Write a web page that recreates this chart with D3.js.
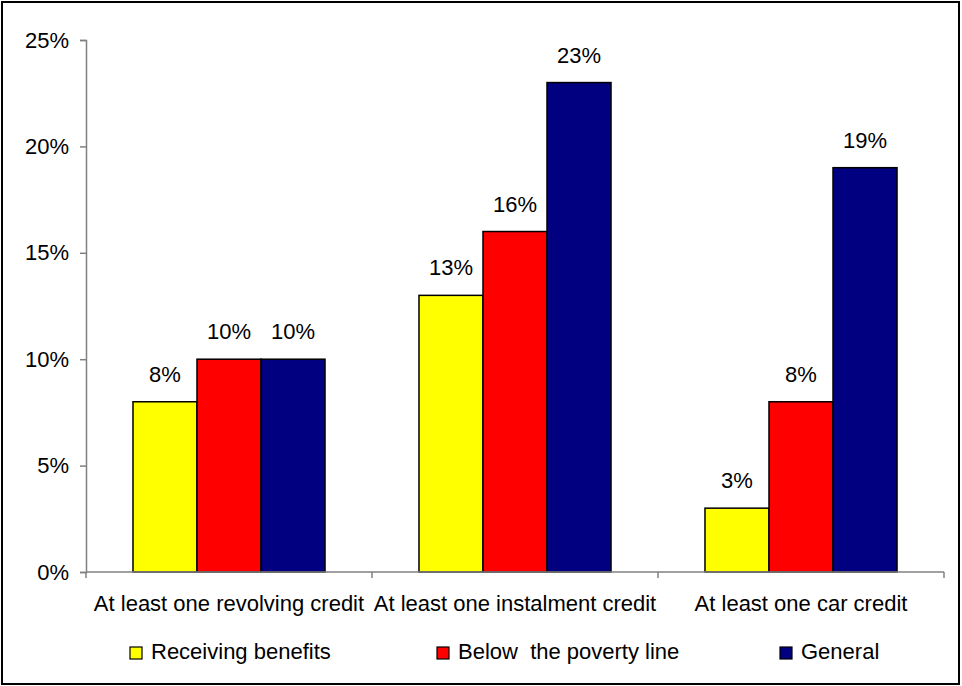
<!DOCTYPE html>
<html>
<head>
<meta charset="utf-8">
<script src="https://cdn.jsdelivr.net/npm/d3@7"></script>
<style>
  html, body { margin: 0; padding: 0; background: #fff; }
  svg { display: block; font-family: "Liberation Sans", Arial, sans-serif; }
</style>
</head>
<body>
<svg id="chart" width="962" height="686"></svg>
<script>
// Share of households holding each type of credit
const categories = ["At least one revolving credit", "At least one instalment credit", "At least one car credit"];
const seriesNames = ["Receiving benefits", "Below  the poverty line", "General"];
const receivingBenefits = [8, 13, 3];
const belowPovertyLine = [10, 16, 8];
const general = [10, 23, 19];
const yTicks = [0, 5, 10, 15, 20, 25];
const colors = ["#ffff00", "#ff0000", "#000080"];

const seriesValues = [receivingBenefits, belowPovertyLine, general];

const svg = d3.select("#chart");
const W = 962, H = 686;
const FS = 22;

// outer frame
svg.append("rect")
  .attr("x", 2).attr("y", 2).attr("width", W - 5).attr("height", H - 4)
  .attr("fill", "#fff").attr("stroke", "#000").attr("stroke-width", 2);

const plot = { left: 86, right: 944, top: 40, bottom: 572 };

const x0 = d3.scaleBand().domain(categories).range([plot.left, plot.right]).paddingInner(0).paddingOuter(0);
const x1 = d3.scaleBand().domain(seriesNames).range([0, x0.bandwidth()]).paddingInner(0).paddingOuter(0.734);
const y = d3.scaleLinear().domain([0, 25]).range([plot.bottom, plot.top]);

// bars
const groups = svg.append("g").selectAll("g")
  .data(categories)
  .join("g")
  .attr("transform", d => `translate(${x0(d)},0)`);

groups.selectAll("rect")
  .data((c, ci) => seriesNames.map((s, si) => ({ s, si, v: seriesValues[si][ci] })))
  .join("rect")
  .attr("x", d => x1(d.s))
  .attr("y", d => y(d.v))
  .attr("width", x1.bandwidth())
  .attr("height", d => y(0) - y(d.v))
  .attr("fill", d => colors[d.si])
  .attr("stroke", "#000")
  .attr("stroke-width", 1.5);

// value labels
groups.selectAll("text")
  .data((c, ci) => seriesNames.map((s, si) => ({ s, si, v: seriesValues[si][ci] })))
  .join("text")
  .attr("x", d => x1(d.s) + x1.bandwidth() / 2)
  .attr("y", d => y(d.v) - 20)
  .attr("text-anchor", "middle")
  .attr("font-size", FS)
  .attr("fill", "#000")
  .text(d => d.v + "%");

// y axis
const yAxis = d3.axisLeft(y).tickValues(yTicks).tickFormat(d => d + "%").tickSize(6).tickPadding(11);
const yg = svg.append("g").attr("transform", `translate(${plot.left},0)`).call(yAxis);
yg.select(".domain").attr("stroke", "#808080").attr("stroke-width", 1.5);
yg.selectAll(".tick line").attr("stroke", "#808080").attr("stroke-width", 1.5);
yg.selectAll(".tick text").attr("font-size", FS).attr("fill", "#000")
  .attr("font-family", "Liberation Sans, Arial, sans-serif");

// x axis
const xg = svg.append("g").attr("transform", `translate(0,${plot.bottom})`);
xg.append("line")
  .attr("x1", plot.left).attr("x2", plot.right)
  .attr("stroke", "#808080").attr("stroke-width", 1.5);
const boundaries = categories.map(c => x0(c)).concat([plot.right]);
xg.selectAll("line.tick")
  .data(boundaries)
  .join("line")
  .attr("class", "tick")
  .attr("x1", d => d).attr("x2", d => d)
  .attr("y1", 0).attr("y2", 6)
  .attr("stroke", "#808080").attr("stroke-width", 1.5);
xg.selectAll("text")
  .data(categories)
  .join("text")
  .attr("x", d => x0(d) + x0.bandwidth() / 2)
  .attr("y", 39)
  .attr("text-anchor", "middle")
  .attr("font-size", FS)
  .attr("fill", "#000")
  .text(d => d);

// legend
const legendX = [130, 437, 780];
const lg = svg.append("g").selectAll("g")
  .data(seriesNames)
  .join("g")
  .attr("transform", (d, i) => `translate(${legendX[i]},647)`);
lg.append("rect")
  .attr("width", 12).attr("height", 12)
  .attr("fill", (d, i) => colors[i])
  .attr("stroke", "#000").attr("stroke-width", 1.2);
lg.append("text")
  .attr("x", 21).attr("y", 12)
  .attr("font-size", FS)
  .attr("fill", "#000")
  .attr("xml:space", "preserve")
  .style("white-space", "pre")
  .text(d => d);
</script>
</body>
</html>
